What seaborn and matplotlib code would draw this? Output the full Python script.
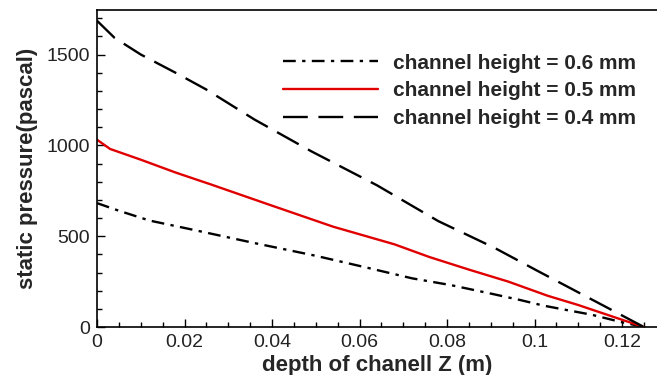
import matplotlib
matplotlib.use("Agg")
import matplotlib.pyplot as plt
import seaborn as sns
import pandas as pd

# Static pressure along the channel depth for three channel heights
z_06 = [0.000, 0.005, 0.012, 0.022, 0.036, 0.050, 0.062, 0.072, 0.081, 0.090,
        0.097, 0.102, 0.107, 0.113, 0.1195, 0.125]
p_06 = [682, 640, 586, 535, 462, 392, 325, 268, 230, 184, 147, 118, 95, 68, 29, 0]

z_05 = [0.000, 0.003, 0.010, 0.018, 0.026, 0.040, 0.054, 0.068, 0.076, 0.085,
        0.094, 0.103, 0.110, 0.119, 0.125]
p_05 = [1031, 980, 921, 850, 785, 668, 552, 455, 385, 316, 250, 172, 121, 48, 0]

z_04 = [0.000, 0.004, 0.010, 0.018, 0.025, 0.036, 0.049, 0.064, 0.078, 0.091,
        0.101, 0.114, 0.125]
p_04 = [1686, 1592, 1500, 1399, 1307, 1142, 967, 780, 583, 434, 305, 140, 0]

series_labels = ["channel height = 0.6 mm",
                 "channel height = 0.5 mm",
                 "channel height = 0.4 mm"]

x_ticks = [0, 0.02, 0.04, 0.06, 0.08, 0.1, 0.12]
x_tick_labels = ["0", "0.02", "0.04", "0.06", "0.08", "0.1", "0.12"]
y_ticks = [0, 500, 1000, 1500]
y_tick_labels = ["0", "500", "1000", "1500"]

sns.set_style("ticks", {"xtick.direction": "in", "ytick.direction": "in"})
plt.rcParams["font.family"] = ["Liberation Sans", "DejaVu Sans"]

fig = plt.figure(figsize=(6.57, 3.75), dpi=100)
ax = fig.add_axes([97 / 657, 48 / 375, 560 / 657, 317 / 375])

styles = [
    (z_06, p_06, "black", (0, (5.4, 2.7, 1.4, 2.7))),
    (z_05, p_05, "#e00000", "-"),
    (z_04, p_04, "black", (0, (10.5, 4.5))),
]
for (zs, ps, col, ls), lab in zip(styles, series_labels):
    df = pd.DataFrame({"z": zs, "p": ps})
    sns.lineplot(data=df, x="z", y="p", ax=ax, color=col, linestyle=ls,
                 linewidth=1.7, label=lab)

ax.set_xlim(0, 0.128)
ax.set_ylim(0, 1745)
ax.set_xticks(x_ticks)
ax.set_xticklabels(x_tick_labels)
ax.set_yticks(y_ticks)
ax.set_yticklabels(y_tick_labels)
ax.set_xticks([i * 0.005 for i in range(26) if i % 4 != 0], minor=True)
ax.set_yticks([i * 100 for i in range(18) if i % 5 != 0], minor=True)

ax.tick_params(axis="both", which="major", direction="in", length=6, width=1,
               labelsize=14, color="black", labelcolor="#222222", pad=5)
ax.tick_params(axis="both", which="minor", direction="in", length=3.5, width=1,
               color="black")
ax.tick_params(top=False, right=False, which="both")

for side in ["left", "bottom", "top"]:
    ax.spines[side].set_linewidth(1.2)
    ax.spines[side].set_color("black")
ax.spines["right"].set_visible(False)

ax.set_xlabel("depth of chanell Z (m)", fontsize=16, fontweight="bold", labelpad=3)
ax.set_ylabel("static pressure(pascal)", fontsize=16, fontweight="bold", labelpad=6)

leg = ax.legend(loc="upper left", bbox_to_anchor=(0.332, 0.862), frameon=False,
                fontsize=15, handlelength=4.55, handletextpad=0.72,
                labelspacing=0.42, borderpad=0, borderaxespad=0)
for t in leg.get_texts():
    t.set_fontweight("bold")

fig.savefig("out.png", dpi=100)
